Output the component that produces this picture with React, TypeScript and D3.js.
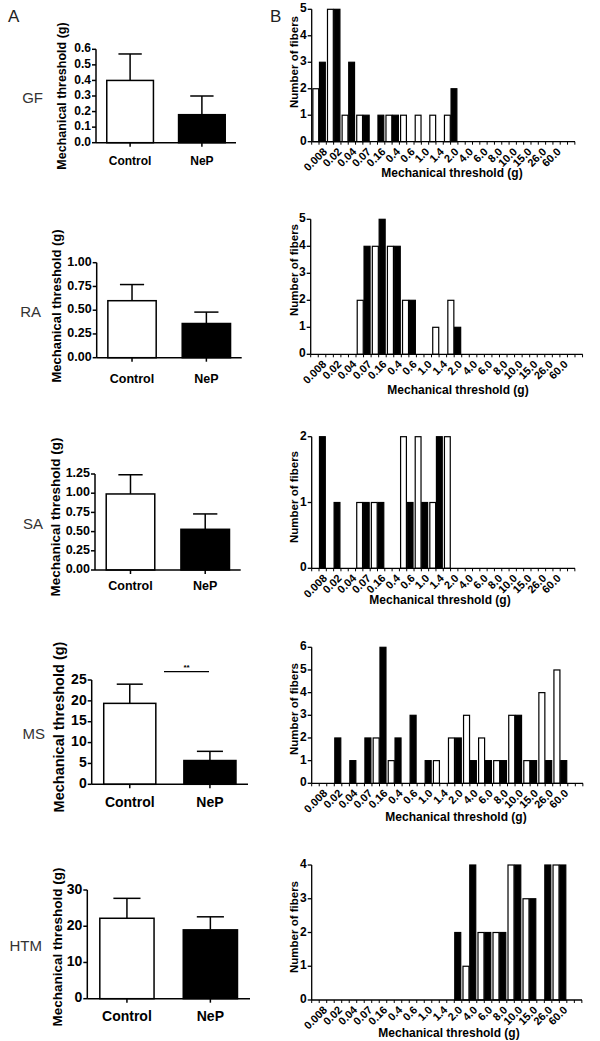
import React from "react";
import * as d3 from "d3";

// groups and fibre types
const groups = ["Control", "NeP"];
const fiberTypes = ["GF", "RA", "SA", "MS", "HTM"];

// panel A: mean mechanical threshold (g) and SEM
const gfMean = [0.40, 0.18];
const gfSem = [0.17, 0.12];
const raMean = [0.60, 0.36];
const raSem = [0.17, 0.12];
const saMean = [0.99, 0.53];
const saSem = [0.25, 0.20];
const msMean = [19.4, 5.7];
const msSem = [4.6, 2.2];
const htmMean = [22.2, 19.0];
const htmSem = [5.5, 3.6];

const gfTicks = [0, 0.1, 0.2, 0.3, 0.4, 0.5, 0.6];
const raTicks = [0, 0.25, 0.5, 0.75, 1.0];
const saTicks = [0, 0.25, 0.5, 0.75, 1.0, 1.25];
const msTicks = [0, 5, 10, 15, 20, 25];
const htmTicks = [0, 10, 20, 30];

// panel B: threshold bins and fibre counts
const thresholdBins = ["0.008", "0.02", "0.04", "0.07", "0.16", "0.4", "0.6", "1.0", "1.4", "2.0",
  "4.0", "6.0", "8.0", "10.0", "15.0", "26.0", "60.0"];

const gfControl = [2, 5, 1, 1, 0, 1, 1, 1, 1, 1, 0, 0, 0, 0, 0, 0, 0];
const gfNep = [3, 5, 3, 1, 1, 1, 0, 0, 0, 2, 0, 0, 0, 0, 0, 0, 0];
const raControl = [0, 0, 0, 2, 4, 4, 2, 0, 1, 2, 0, 0, 0, 0, 0, 0, 0];
const raNep = [0, 0, 0, 4, 5, 4, 2, 0, 0, 1, 0, 0, 0, 0, 0, 0, 0];
const saControl = [0, 0, 0, 1, 1, 0, 2, 2, 1, 2, 0, 0, 0, 0, 0, 0, 0];
const saNep = [2, 1, 0, 1, 1, 0, 1, 1, 2, 0, 0, 0, 0, 0, 0, 0, 0];
const msControl = [0, 0, 0, 0, 2, 1, 0, 0, 1, 2, 3, 2, 1, 3, 1, 4, 5];
const msNep = [0, 2, 1, 2, 6, 2, 3, 1, 0, 2, 1, 1, 1, 3, 1, 1, 1];
const htmControl = [0, 0, 0, 0, 0, 0, 0, 0, 0, 0, 1, 2, 2, 4, 3, 0, 4];
const htmNep = [0, 0, 0, 0, 0, 0, 0, 0, 0, 2, 4, 2, 2, 4, 3, 4, 4];

const gfCountTicks = [0, 1, 2, 3, 4, 5];
const raCountTicks = [0, 1, 2, 3, 4, 5];
const saCountTicks = [0, 1, 2];
const msCountTicks = [0, 1, 2, 3, 4, 5, 6];
const htmCountTicks = [0, 1, 2, 3, 4];

const FONT = "Arial, 'Liberation Sans', Helvetica, sans-serif";

function BarPanel(p: any) {
  const x = d3.scaleBand().domain(groups).range([p.x0, p.x1]).paddingInner(0.35).paddingOuter(0.15);
  const top = p.ticks[p.ticks.length - 1];
  const y = d3.scaleLinear().domain([0, top]).range([p.y0, p.yTop]);
  const fmt = d3.format(p.fmt);
  const bw = x.bandwidth();
  return (
    <g fontFamily={FONT}>
      <text x={p.nameX} y={(p.y0 + p.yTop) / 2 + 7} textAnchor="end" fontSize={15} fill="#333">{p.name}</text>
      <text transform={`translate(${p.titleX},${p.titleY}) rotate(-90)`} textAnchor="middle"
        fontSize={p.titleFont} fontWeight="bold" dominantBaseline="middle">Mechanical threshold (g)</text>
      {groups.map((g, i) => {
        const cx = (x(g) as number) + bw / 2;
        return (
          <g key={g}>
            <line x1={cx} x2={cx} y1={y(p.mean[i])} y2={y(p.mean[i] + p.sem[i])} stroke="#000" strokeWidth={1.5} />
            <line x1={cx - bw / 4} x2={cx + bw / 4} y1={y(p.mean[i] + p.sem[i])} y2={y(p.mean[i] + p.sem[i])} stroke="#000" strokeWidth={1.5} />
            <rect x={x(g)} y={y(p.mean[i])} width={bw} height={p.y0 - y(p.mean[i])}
              fill={i === 0 ? "#fff" : "#000"} stroke="#000" strokeWidth={1.5} />
            <line x1={cx} x2={cx} y1={p.y0} y2={p.y0 + 4} stroke="#000" strokeWidth={1.5} />
            <text x={cx} y={p.labelY} textAnchor="middle" dominantBaseline="middle" fontSize={p.font} fontWeight="bold">{g}</text>
          </g>
        );
      })}
      <line x1={p.x0} x2={p.x1} y1={p.y0} y2={p.y0} stroke="#000" strokeWidth={1.5} />
      <line x1={p.x0} x2={p.x0} y1={p.y0} y2={p.yTop} stroke="#000" strokeWidth={1.5} />
      {p.ticks.map((t: number) => (
        <g key={t}>
          <line x1={p.x0 - 4} x2={p.x0} y1={y(t)} y2={y(t)} stroke="#000" strokeWidth={1.5} />
          <text x={p.x0 - 5} y={y(t)} textAnchor="end" dominantBaseline="middle" fontSize={p.font} fontWeight="bold">{fmt(t)}</text>
        </g>
      ))}
      {p.sig && (
        <g>
          <line x1={p.sig[0]} x2={p.sig[1]} y1={p.sig[2]} y2={p.sig[2]} stroke="#000" strokeWidth={1.2} />
          <text x={(p.sig[0] + p.sig[1]) / 2} y={p.sig[2] - 2} textAnchor="middle" fontSize={8} fontWeight="bold">**</text>
        </g>
      )}
    </g>
  );
}

function HistPanel(p: any) {
  const slots = d3.range(thresholdBins.length + 1);
  const x = d3.scaleBand<number>().domain(slots).range([p.x0, p.x1]).paddingInner(0.15).paddingOuter(0.08);
  const sub = d3.scaleBand().domain(groups).range([0, x.bandwidth()]).paddingInner(0.12);
  const top = p.ticks[p.ticks.length - 1];
  const y = d3.scaleLinear().domain([0, top]).range([p.y0, p.yTop]);
  const step = x.step();
  const tickXs = d3.range(slots.length * 2 + 1).map((k) => p.x0 + (k * step) / 2);
  const series = [p.control, p.nep];
  return (
    <g fontFamily={FONT}>
      <text transform={`translate(${p.titleX},${p.titleY}) rotate(-90)`} textAnchor="middle"
        fontSize={11.5} fontWeight="bold" dominantBaseline="middle">Number of fibers</text>
      {series.map((vals: number[], gi: number) =>
        vals.map((v, i) => v > 0 ? (
          <rect key={`${gi}-${i}`} x={(x(i) as number) + (sub(groups[gi]) as number)} y={y(v)}
            width={sub.bandwidth()} height={p.y0 - y(v)}
            fill={gi === 0 ? "#fff" : "#000"} stroke="#000" strokeWidth={1.2} />
        ) : null)
      )}
      <line x1={p.x0} x2={p.x1} y1={p.y0} y2={p.y0} stroke="#000" strokeWidth={1.3} />
      {tickXs.filter((tx) => tx <= p.x1).map((tx, k) => (
        <line key={k} x1={tx} x2={tx} y1={p.y0} y2={p.y0 + 3} stroke="#000" strokeWidth={1} />
      ))}
      {thresholdBins.map((b, i) => {
        const cx = (x(i) as number) + x.bandwidth() / 2;
        return (
          <text key={b} transform={`translate(${cx + 3},${p.y0 + 5}) rotate(-45)`} textAnchor="end"
            dominantBaseline="hanging" fontSize={11} fontWeight="bold">{b}</text>
        );
      })}
      <line x1={p.x0} x2={p.x0} y1={p.y0} y2={p.yTop} stroke="#000" strokeWidth={1.3} />
      {p.ticks.map((t: number) => (
        <g key={t}>
          <line x1={p.x0 - 4} x2={p.x0} y1={y(t)} y2={y(t)} stroke="#000" strokeWidth={1.3} />
          <text x={p.x0 - 5} y={y(t)} textAnchor="end" dominantBaseline="middle" fontSize={12} fontWeight="bold">{t}</text>
        </g>
      ))}
      <text x={p.xTitleX} y={p.xTitleY} textAnchor="middle" fontSize={12} fontWeight="bold">Mechanical threshold (g)</text>
    </g>
  );
}

const barLayouts = [
  { x0: 96, x1: 236, y0: 142.7, yTop: 49.3, fmt: ".1f", font: 12, titleFont: 12.5, titleX: 63, titleY: 96, labelY: 162, nameX: 43 },
  { x0: 96.7, x1: 241.7, y0: 357.7, yTop: 262.7, fmt: ".2f", font: 12.5, titleFont: 13, titleX: 58, titleY: 306, labelY: 380, nameX: 41 },
  { x0: 95, x1: 240.7, y0: 570, yTop: 474, fmt: ".2f", font: 12.5, titleFont: 13.5, titleX: 56, titleY: 517, labelY: 587, nameX: 43 },
  { x0: 91.7, x1: 248, y0: 784.3, yTop: 680, fmt: "d", font: 14, titleFont: 14.5, titleX: 60, titleY: 727, labelY: 803, nameX: 45 },
  { x0: 87.3, x1: 250, y0: 998.7, yTop: 890, fmt: "d", font: 14, titleFont: 13.5, titleX: 58, titleY: 947, labelY: 1017, nameX: 42 },
];

const histLayouts = [
  { x0: 311.7, x1: 575, y0: 141.7, yTop: 9.3, titleX: 295, titleY: 62, xTitleX: 452, xTitleY: 177 },
  { x0: 310.7, x1: 582.7, y0: 354.3, yTop: 219.3, titleX: 295, titleY: 270, xTitleX: 458, xTitleY: 394 },
  { x0: 311.7, x1: 575, y0: 568.3, yTop: 436.7, titleX: 295, titleY: 497, xTitleX: 440, xTitleY: 604 },
  { x0: 311.7, x1: 583, y0: 783.3, yTop: 647.3, titleX: 295, titleY: 709, xTitleX: 456, xTitleY: 821 },
  { x0: 311.7, x1: 582, y0: 1000, yTop: 865, titleX: 295, titleY: 927, xTitleX: 449, xTitleY: 1037 },
];

export default function App() {
  const means = [gfMean, raMean, saMean, msMean, htmMean];
  const sems = [gfSem, raSem, saSem, msSem, htmSem];
  const ticks = [gfTicks, raTicks, saTicks, msTicks, htmTicks];
  const controls = [gfControl, raControl, saControl, msControl, htmControl];
  const neps = [gfNep, raNep, saNep, msNep, htmNep];
  const countTicks = [gfCountTicks, raCountTicks, saCountTicks, msCountTicks, htmCountTicks];
  return (
    <svg width={600} height={1041} style={{ position: "absolute", left: 0, top: 0, background: "#fff" }}>
      <rect width={600} height={1041} fill="#fff" />
      <text x={8} y={22} fontFamily={FONT} fontSize={17} fill="#222">A</text>
      <text x={270} y={22} fontFamily={FONT} fontSize={17} fill="#222">B</text>
      {fiberTypes.map((f, i) => (
        <BarPanel key={f} name={f} {...barLayouts[i]} mean={means[i]} sem={sems[i]} ticks={ticks[i]}
          sig={f === "MS" ? [164, 209, 671.7] : null} />
      ))}
      {fiberTypes.map((f, i) => (
        <HistPanel key={f} {...histLayouts[i]} control={controls[i]} nep={neps[i]} ticks={countTicks[i]} />
      ))}
    </svg>
  );
}
